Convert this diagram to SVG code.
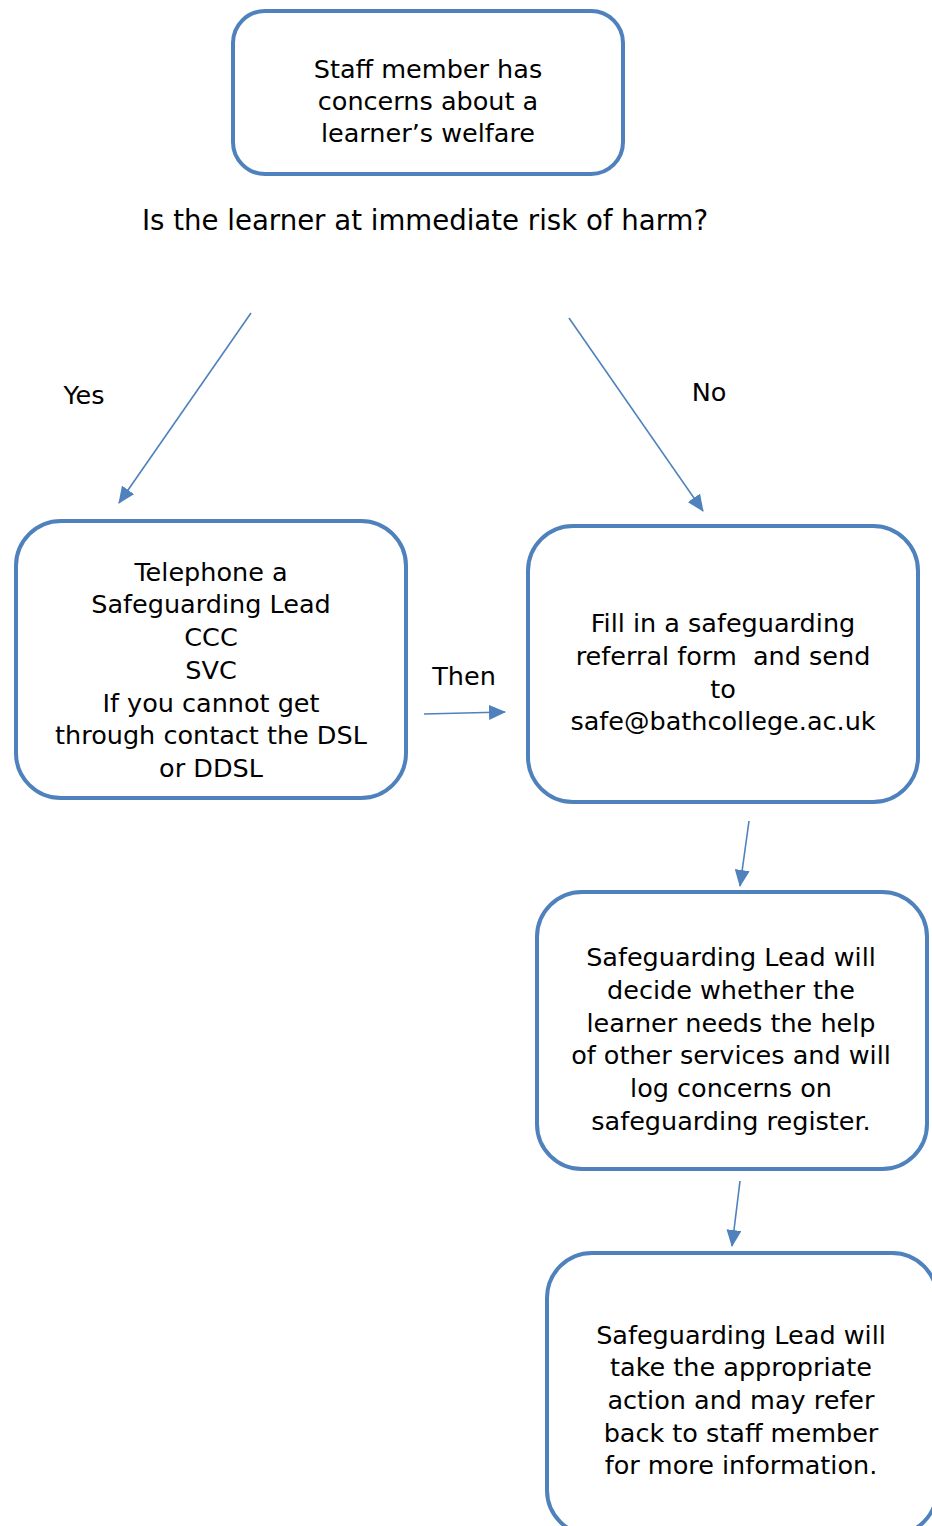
<svg xmlns="http://www.w3.org/2000/svg" width="932" height="1526" viewBox="0 0 932 1526">
<style>
.box{fill:#fff;stroke:#4F81BD;stroke-width:4}
.t{font-family:"DejaVu Sans","Liberation Sans",sans-serif;font-size:25.5px;fill:#000;text-anchor:middle;white-space:pre}
.c{stroke:#4F81BD;stroke-width:1.6;fill:none}
</style>
<defs>
<marker id="ah" markerUnits="userSpaceOnUse" markerWidth="17" markerHeight="15" refX="16" refY="7.5" orient="auto">
<path d="M0,0 L17,7.5 L0,15 Z" fill="#4F81BD"/>
</marker>
</defs>
<rect width="932" height="1526" fill="#fff"/>
<g id="n1">
<rect class="box" x="233" y="11" width="390" height="163" rx="32"/>
<text class="t" x="428" y="78">Staff member has</text>
<text class="t" x="428" y="110">concerns about a</text>
<text class="t" x="428" y="142">learner’s welfare</text>
</g>
<g id="q">
<text class="t" x="425" y="230" style="font-size:27.6px">Is the learner at immediate risk of harm?</text>
</g>
<g id="n2">
<rect class="box" x="16" y="521" width="390" height="277" rx="45"/>
<text class="t" x="211" y="581">Telephone a</text>
<text class="t" x="211" y="613">Safeguarding Lead</text>
<text class="t" x="211" y="646">CCC</text>
<text class="t" x="211" y="679">SVC</text>
<text class="t" x="211" y="712">If you cannot get</text>
<text class="t" x="211" y="744">through contact the DSL</text>
<text class="t" x="211" y="777">or DDSL</text>
</g>
<g id="n3">
<rect class="box" x="528" y="526" width="390" height="276" rx="45"/>
<text class="t" x="723" y="632">Fill in a safeguarding</text>
<text class="t" x="723" y="665" xml:space="preserve">referral form  and send</text>
<text class="t" x="723" y="698">to</text>
<text class="t" x="723" y="730">safe@bathcollege.ac.uk</text>
</g>
<g id="n4">
<rect class="box" x="537" y="892" width="390" height="277" rx="45"/>
<text class="t" x="731" y="966">Safeguarding Lead will</text>
<text class="t" x="731" y="999">decide whether the</text>
<text class="t" x="731" y="1032">learner needs the help</text>
<text class="t" x="731" y="1064">of other services and will</text>
<text class="t" x="731" y="1097">log concerns on</text>
<text class="t" x="731" y="1130">safeguarding register.</text>
</g>
<g id="n5">
<rect class="box" x="547" y="1253" width="390" height="282" rx="45"/>
<text class="t" x="741" y="1344">Safeguarding Lead will</text>
<text class="t" x="741" y="1376">take the appropriate</text>
<text class="t" x="741" y="1409">action and may refer</text>
<text class="t" x="741" y="1442">back to staff member</text>
<text class="t" x="741" y="1474">for more information.</text>
</g>
<g id="connectors">
<line class="c" x1="251" y1="313" x2="119" y2="503" marker-end="url(#ah)"/>
<line class="c" x1="569" y1="318" x2="703" y2="511" marker-end="url(#ah)"/>
<line class="c" x1="424" y1="714" x2="505" y2="712" marker-end="url(#ah)"/>
<line class="c" x1="749" y1="821" x2="740" y2="886" marker-end="url(#ah)"/>
<line class="c" x1="740" y1="1181" x2="732" y2="1246" marker-end="url(#ah)"/>
<text class="t" x="84" y="404">Yes</text>
<text class="t" x="709" y="401">No</text>
<text class="t" x="464" y="685">Then</text>
</g>
</svg>
